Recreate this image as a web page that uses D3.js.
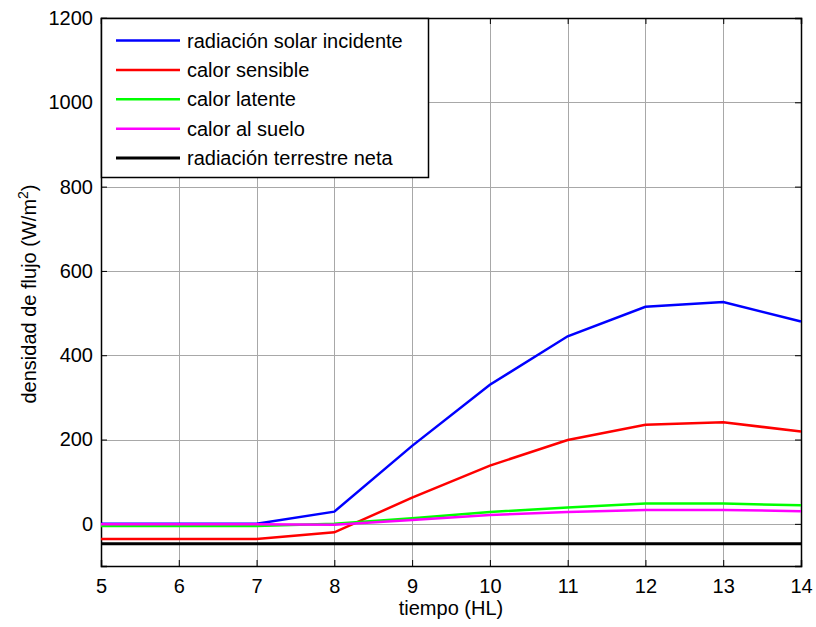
<!DOCTYPE html>
<html>
<head>
<meta charset="utf-8">
<script src="https://cdn.jsdelivr.net/npm/d3@7"></script>
<style>
  body { margin: 0; background: #fff; }
  svg { display: block; font-family: "Liberation Sans", Arial, sans-serif; }
</style>
</head>
<body>
<div id="chart"></div>
<script>
// Datos
const horas = [5, 6, 7, 8, 9, 10, 11, 12, 13, 14];
const radSolar = [0, 0, 0, 29, 185, 330, 445, 515, 526, 480];
const calorSensible = [-36, -36, -36, -20, 62, 138, 199, 235, 241, 219];
const calorLatente = [-5, -5, -5, 0, 13, 28, 39, 48, 48, 44];
const calorSuelo = [-1, -1, -1, -2, 9, 21, 28, 33, 33, 30];
const radTerrestre = [-47, -47, -47, -47, -47, -47, -47, -47, -47, -47];

const xTicks = [5, 6, 7, 8, 9, 10, 11, 12, 13, 14];
const yTicks = [0, 200, 400, 600, 800, 1000, 1200];

const series = [
    { name: "radiación solar incidente", color: "#0000ff", values: radSolar, w: 2.5 },
    { name: "calor sensible", color: "#ff0000", values: calorSensible, w: 2.5 },
    { name: "calor latente", color: "#00ff00", values: calorLatente, w: 2.5 },
    { name: "calor al suelo", color: "#ff00ff", values: calorSuelo, w: 2.5 },
    { name: "radiación terrestre neta", color: "#000000", values: radTerrestre, w: 3 }
];

const W = 816, H = 627;
const m = { left: 101, right: 15, top: 18, bottom: 61 };
const FS = 20;

const svg = d3.select("#chart").append("svg")
    .attr("width", W)
    .attr("height", H);

const x = d3.scaleLinear().domain([5, 14]).range([m.left, W - m.right]);
const y = d3.scaleLinear().domain([-100, 1200]).range([H - m.bottom, m.top]);

// Rejilla
const grid = svg.append("g").attr("stroke", "#a8a8a8").attr("stroke-width", 1);
xTicks.forEach(t => {
    grid.append("line")
        .attr("x1", Math.round(x(t)) + 0.5).attr("x2", Math.round(x(t)) + 0.5)
        .attr("y1", m.top).attr("y2", H - m.bottom);
});
yTicks.forEach(t => {
    grid.append("line")
        .attr("y1", Math.round(y(t)) + 0.5).attr("y2", Math.round(y(t)) + 0.5)
        .attr("x1", m.left).attr("x2", W - m.right);
});

// Ejes (ticks hacia dentro, estilo MATLAB)
const tl = 6;
const fmt = d3.format("d");
svg.append("g")
    .attr("transform", `translate(0,${H - m.bottom})`)
    .call(d3.axisBottom(x).tickValues(xTicks).tickSize(-tl).tickPadding(13).tickFormat(fmt));
svg.append("g")
    .attr("transform", `translate(0,${m.top})`)
    .call(d3.axisTop(x).tickValues(xTicks).tickSize(-tl).tickFormat(""));
svg.append("g")
    .attr("transform", `translate(${m.left},0)`)
    .call(d3.axisLeft(y).tickValues(yTicks).tickSize(-tl).tickPadding(8).tickFormat(fmt));
svg.append("g")
    .attr("transform", `translate(${W - m.right},0)`)
    .call(d3.axisRight(y).tickValues(yTicks).tickSize(-tl).tickFormat(""));

svg.selectAll(".domain").attr("stroke", "#000").attr("stroke-width", 1.5);
svg.selectAll(".tick line").attr("stroke", "#000");
svg.selectAll(".tick text")
    .attr("font-size", FS)
    .attr("fill", "#000")
    .attr("font-family", "Liberation Sans, Arial, sans-serif");

// Líneas
const line = d3.line()
    .x((d, i) => x(horas[i]))
    .y(d => y(d));

series.forEach(s => {
    svg.append("path")
        .datum(s.values)
        .attr("fill", "none")
        .attr("stroke", s.color)
        .attr("stroke-width", s.w)
        .attr("d", line);
});

// Leyenda
const lg = svg.append("g");
lg.append("rect")
    .attr("x", m.left + 0.5).attr("y", m.top + 0.5)
    .attr("width", 327).attr("height", 159)
    .attr("fill", "#fff").attr("stroke", "#000").attr("stroke-width", 1.5);
series.forEach((s, i) => {
    const yy = 40.5 + i * 29.4;
    lg.append("line")
        .attr("x1", 116).attr("x2", 180)
        .attr("y1", yy).attr("y2", yy)
        .attr("stroke", s.color).attr("stroke-width", s.w);
    lg.append("text")
        .attr("x", 187).attr("y", yy + 7)
        .attr("font-size", FS)
        .text(s.name);
});

// Títulos de ejes
svg.append("text")
    .attr("x", (m.left + W - m.right) / 2)
    .attr("y", 615)
    .attr("text-anchor", "middle")
    .attr("font-size", FS)
    .text("tiempo (HL)");

const yl = svg.append("text")
    .attr("transform", `translate(36,${(m.top + H - m.bottom) / 2 + 2}) rotate(-90)`)
    .attr("text-anchor", "middle")
    .attr("font-size", FS);
yl.append("tspan").text("densidad de flujo (W/m");
yl.append("tspan").attr("font-size", 14).attr("dy", -8).text("2");
yl.append("tspan").attr("dy", 8).text(")");
</script>
</body>
</html>
